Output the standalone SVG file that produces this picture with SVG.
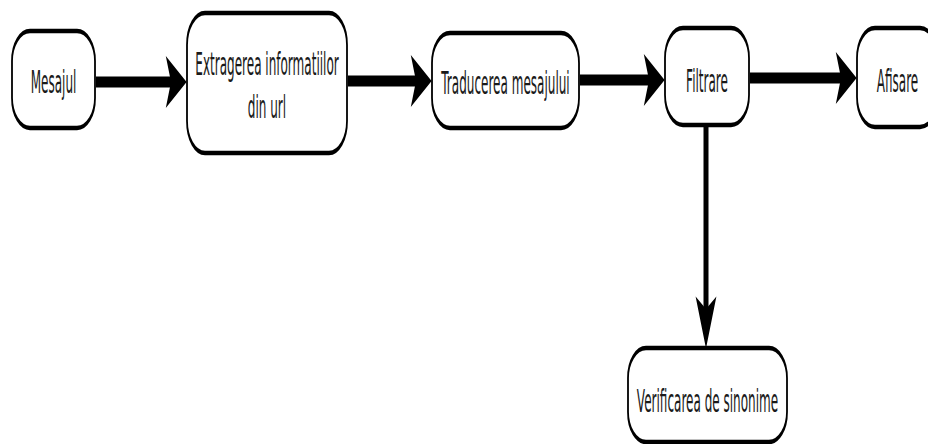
<svg xmlns="http://www.w3.org/2000/svg" width="928" height="444" viewBox="0 0 928 444">
  <style>
    .box { fill: #ffffff; stroke: #000000; stroke-width: 4.5; }
    .lbl { font-family: "DejaVu Sans", "Liberation Sans", sans-serif; font-size: 32px; fill: #1a1a1a; text-anchor: middle; }
    .shaft { stroke: #000000; fill: none; stroke-linecap: butt; }
  </style>
  <defs>
    <!-- head for horizontal flow: short along the line, tall across it -->
    <marker id="headH" markerUnits="userSpaceOnUse" markerWidth="22" markerHeight="52" viewBox="0 0 20 50" refX="5" refY="25" orient="auto" overflow="visible">
      <path d="M0,0 L20,25 L0,50 L5,25 Z" fill="#000000"/>
    </marker>
    <!-- head for the downward branch: long along the line, narrow across it -->
    <marker id="headV" markerUnits="userSpaceOnUse" markerWidth="52" markerHeight="22" viewBox="0 0 50 20" refX="12" refY="10" orient="auto" overflow="visible">
      <path d="M0,0 L50,10 L0,20 L12,10 Z" fill="#000000"/>
    </marker>
  </defs>

  <g id="connectors">
    <line class="shaft" x1="96" y1="82" x2="171" y2="82" stroke-width="11" marker-end="url(#headH)"/>
    <line class="shaft" x1="348" y1="81" x2="416" y2="81" stroke-width="11" marker-end="url(#headH)"/>
    <line class="shaft" x1="580" y1="80" x2="649" y2="80" stroke-width="11" marker-end="url(#headH)"/>
    <line class="shaft" x1="750" y1="78" x2="841" y2="78" stroke-width="11" marker-end="url(#headH)"/>
    <line class="shaft" x1="706" y1="127" x2="706" y2="309" stroke-width="5" marker-end="url(#headV)"/>
  </g>

  <!-- nodes are drawn in a horizontally squeezed frame (x0.4) -->
  <g id="node-mesajul" transform="translate(53.5,79.5) scale(0.4,1)">
    <rect class="box" x="-103.75" y="-48.5" width="207.5" height="97" rx="45" ry="30"/>
    <text class="lbl" transform="scale(0.94,1)" x="0" y="13.5">Mesajul</text>
  </g>

  <g id="node-extragerea" transform="translate(267,83) scale(0.4,1)">
    <rect class="box" x="-200" y="-70" width="400" height="140" rx="45" ry="32"/>
    <text class="lbl" transform="scale(0.94,1)" x="0" y="-8">Extragerea informatiilor</text>
    <text class="lbl" transform="scale(0.94,1)" x="0" y="35">din url</text>
  </g>

  <g id="node-traducerea" transform="translate(505.5,80.5) scale(0.4,1)">
    <rect class="box" x="-183.75" y="-47.5" width="367.5" height="95" rx="45" ry="30"/>
    <text class="lbl" transform="scale(0.94,1)" x="0" y="13.5">Traducerea mesajului</text>
  </g>

  <g id="node-filtrare" transform="translate(707,76.5) scale(0.4,1)">
    <rect class="box" x="-105" y="-48.5" width="210" height="97" rx="45" ry="30"/>
    <text class="lbl" transform="scale(0.94,1)" x="0" y="15.5">Filtrare</text>
  </g>

  <g id="node-afisare" transform="translate(897.5,77.5) scale(0.4,1)">
    <rect class="box" x="-101.25" y="-49.5" width="202.5" height="99" rx="45" ry="30"/>
    <text class="lbl" transform="scale(0.94,1)" x="0" y="14.5">Afisare</text>
  </g>

  <g id="node-verificarea" transform="translate(707.5,395) scale(0.4,1)">
    <rect class="box" x="-198.75" y="-47" width="397.5" height="94" rx="45" ry="30"/>
    <text class="lbl" transform="scale(0.94,1)" x="0" y="17">Verificarea de sinonime</text>
  </g>
</svg>
